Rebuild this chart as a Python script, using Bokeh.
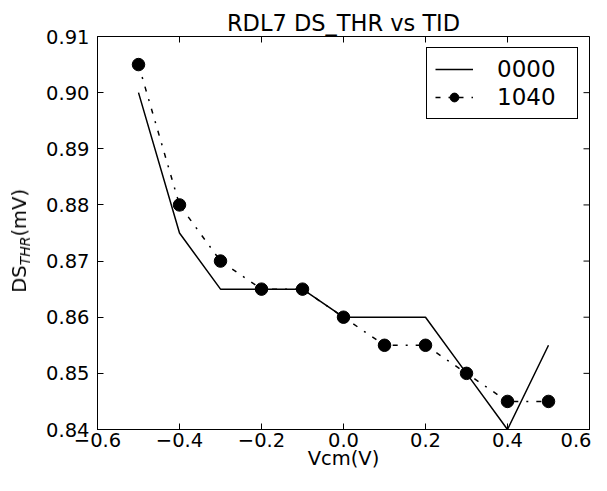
from bokeh.plotting import figure
from bokeh.layouts import row
from bokeh.models import (Range1d, Legend, LegendItem, Div,
                          FixedTicker, CustomJSTickFormatter)
from bokeh.embed import file_html
from bokeh.resources import INLINE

# ---- data ----
vcm = [-0.5, -0.4, -0.3, -0.2, -0.1, 0.0, 0.1, 0.2, 0.3, 0.4, 0.5]
ds_0000 = [0.900, 0.875, 0.865, 0.865, 0.865, 0.860, 0.860, 0.860, 0.850, 0.840, 0.855]
ds_1040 = [0.905, 0.880, 0.870, 0.865, 0.865, 0.860, 0.855, 0.855, 0.850, 0.845, 0.845]
x_ticks = [-0.6, -0.4, -0.2, 0.0, 0.2, 0.4, 0.6]
y_ticks = [0.84, 0.85, 0.86, 0.87, 0.88, 0.89, 0.90, 0.91]
series_names = ["0000", "1040"]
title_text = "RDL7 DS_THR vs TID"
x_label = "Vcm(V)"
y_label_main, y_label_sub, y_label_unit = "DS", "THR", "(mV)"

# ---- layout ----
DW = 36                      # width of the y-label column
W, H = 591 - DW, 475
BL, BR, BT, BB = 97 - DW, 2, 36, 46
FONT = "DejaVu Sans"
TICK_FS = "19.5px"
XMIN, XMAX = x_ticks[0], x_ticks[-1]
YMIN, YMAX = y_ticks[0], y_ticks[-1]
fw = W - BL - BR
fh = H - BT - BB

p = figure(width=W, height=H, output_backend="svg", toolbar_location=None,
           x_range=Range1d(XMIN, XMAX), y_range=Range1d(YMIN, YMAX),
           min_border_left=BL, min_border_right=BR,
           min_border_top=BT, min_border_bottom=BB, title=title_text)
p.background_fill_color = "white"
p.border_fill_color = "white"
p.outline_line_color = "black"
p.outline_line_width = 1
p.outline_line_alpha = 1
p.xgrid.visible = False
p.ygrid.visible = False

p.title.text_font = FONT
p.title.text_font_size = "22.5px"
p.title.text_font_style = "normal"
p.title.text_color = "black"
p.title.align = "center"
p.title.standoff = 2

xfmt = CustomJSTickFormatter(code="return tick.toFixed(1).replace('-', '\u2212');")
yfmt = CustomJSTickFormatter(code="return tick.toFixed(2);")
p.xaxis.ticker = FixedTicker(ticks=x_ticks)
p.xaxis.formatter = xfmt
p.yaxis.ticker = FixedTicker(ticks=y_ticks)
p.yaxis.formatter = yfmt
for ax in p.xaxis + p.yaxis:
    ax.major_tick_in = 6
    ax.major_tick_out = 0
    ax.minor_tick_line_color = None
    ax.major_tick_line_color = "black"
    ax.axis_line_color = "black"
    ax.major_label_text_color = "black"
    ax.major_label_text_font = FONT
    ax.major_label_text_font_size = TICK_FS
    ax.axis_label_text_font = FONT
    ax.axis_label_text_font_size = TICK_FS
    ax.axis_label_text_font_style = "normal"
    ax.axis_label_text_color = "black"
p.xaxis.major_label_standoff = 3
p.xaxis.axis_label = x_label
p.xaxis.axis_label_standoff = -3
p.yaxis.major_label_standoff = 8

# inward ticks on the top and right frame edges
dy = 6 * (YMAX - YMIN) / fh
dx = 6 * (XMAX - XMIN) / fw
p.segment(x0=x_ticks, y0=[YMAX] * len(x_ticks), x1=x_ticks, y1=[YMAX - dy] * len(x_ticks),
          line_color="black", line_width=1)
p.segment(x0=[XMAX] * len(y_ticks), y0=y_ticks, x1=[XMAX - dx] * len(y_ticks), y1=y_ticks,
          line_color="black", line_width=1)

# ---- data glyphs ----
r0 = p.line(vcm, ds_0000, line_color="black", line_width=1.5)
r1l = p.line(vcm, ds_1040, line_color="black", line_width=1.5, line_dash="5 8 2 8")
r1s = p.scatter(vcm, ds_1040, size=12.5, fill_color="black", line_color="black")

legend = Legend(items=[LegendItem(label=series_names[0], renderers=[r0]),
                       LegendItem(label=series_names[1], renderers=[r1l, r1s])],
                location="top_right")
legend.border_line_color = "black"
legend.border_line_width = 1
legend.border_line_alpha = 1
legend.background_fill_alpha = 1
legend.label_text_font = FONT
legend.label_text_font_size = "23px"
legend.label_text_color = "black"
legend.glyph_width = 38
legend.glyph_height = 22
legend.label_standoff = 24
legend.label_width = 72
legend.padding = 8
legend.spacing = 2
legend.margin = 11
p.add_layout(legend)

# ---- rotated y-axis label with italic subscript ----
label_html = (
    f'<div style="box-sizing:border-box;height:{H}px;width:{DW}px;display:flex;'
    f'align-items:flex-end;justify-content:flex-start;padding-left:10px;'
    f'padding-bottom:{H - 293}px;color:#000000;">'
    f'<span style="writing-mode:vertical-rl;transform:rotate(180deg);will-change:transform;'
    f'-webkit-font-smoothing:antialiased;'
    f'font-family:\'{FONT}\';font-size:{TICK_FS};line-height:1;color:#000000;white-space:nowrap;">'
    f'{y_label_main}<span style="font-style:italic;font-size:14px;vertical-align:-5px;color:#000000;">'
    f'{y_label_sub}</span>{y_label_unit}</span></div>'
)
ylab = Div(text=label_html, width=DW, height=H, margin=0)

layout = row(ylab, p, spacing=0)
open("out.html", "w").write(file_html(layout, INLINE))
